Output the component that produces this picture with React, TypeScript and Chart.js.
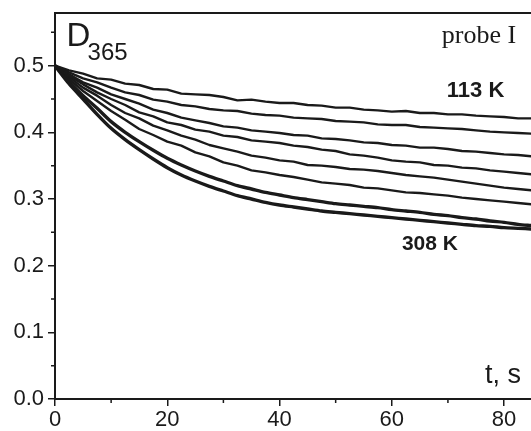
import React, { useEffect, useRef } from "react";
import { Chart, registerables } from "chart.js";

Chart.register(...registerables);

const times = [0, 2.5, 5, 7.5, 10, 12.5, 15, 17.5, 20, 22.5, 25, 27.5, 30, 32.5, 35, 37.5, 40, 42.5, 45, 47.5, 50, 52.5, 55, 57.5, 60, 62.5, 65, 67.5, 70, 72.5, 75, 77.5, 80, 82.5, 85];

const d113K = [0.500, 0.493, 0.488, 0.481, 0.479, 0.473, 0.471, 0.465, 0.464, 0.458, 0.457, 0.456, 0.453, 0.448, 0.449, 0.446, 0.444, 0.444, 0.441, 0.440, 0.437, 0.437, 0.434, 0.433, 0.431, 0.432, 0.429, 0.429, 0.427, 0.427, 0.425, 0.424, 0.423, 0.421, 0.421];
const dCurve2 = [0.500, 0.490, 0.481, 0.475, 0.467, 0.460, 0.456, 0.449, 0.446, 0.441, 0.439, 0.435, 0.433, 0.432, 0.428, 0.426, 0.425, 0.422, 0.421, 0.420, 0.417, 0.416, 0.415, 0.412, 0.411, 0.411, 0.408, 0.407, 0.406, 0.405, 0.403, 0.401, 0.400, 0.399, 0.398];
const dCurve3 = [0.500, 0.487, 0.475, 0.467, 0.457, 0.450, 0.443, 0.434, 0.429, 0.422, 0.418, 0.414, 0.409, 0.407, 0.403, 0.401, 0.399, 0.396, 0.395, 0.391, 0.390, 0.388, 0.385, 0.384, 0.381, 0.380, 0.377, 0.377, 0.375, 0.372, 0.371, 0.369, 0.367, 0.366, 0.364];
const dCurve4 = [0.500, 0.485, 0.472, 0.460, 0.450, 0.441, 0.430, 0.424, 0.415, 0.411, 0.404, 0.401, 0.395, 0.393, 0.388, 0.386, 0.384, 0.380, 0.378, 0.374, 0.372, 0.367, 0.365, 0.362, 0.358, 0.356, 0.355, 0.351, 0.350, 0.347, 0.346, 0.343, 0.341, 0.339, 0.337];
const dCurve5 = [0.500, 0.483, 0.467, 0.455, 0.441, 0.429, 0.421, 0.410, 0.403, 0.395, 0.389, 0.381, 0.376, 0.371, 0.365, 0.362, 0.358, 0.356, 0.351, 0.350, 0.348, 0.345, 0.344, 0.342, 0.339, 0.336, 0.334, 0.332, 0.329, 0.326, 0.323, 0.320, 0.317, 0.315, 0.313];
const dCurve6 = [0.500, 0.480, 0.462, 0.447, 0.432, 0.419, 0.405, 0.396, 0.386, 0.380, 0.370, 0.364, 0.355, 0.350, 0.343, 0.340, 0.336, 0.333, 0.329, 0.325, 0.323, 0.321, 0.317, 0.316, 0.313, 0.310, 0.309, 0.307, 0.305, 0.302, 0.300, 0.298, 0.296, 0.294, 0.292];
const dCurve7 = [0.500, 0.476, 0.455, 0.436, 0.416, 0.400, 0.386, 0.373, 0.361, 0.351, 0.342, 0.334, 0.327, 0.320, 0.315, 0.310, 0.306, 0.302, 0.299, 0.296, 0.293, 0.291, 0.289, 0.287, 0.284, 0.282, 0.280, 0.277, 0.275, 0.272, 0.270, 0.267, 0.265, 0.262, 0.260];
const d308K = [0.500, 0.473, 0.450, 0.427, 0.406, 0.389, 0.374, 0.360, 0.347, 0.336, 0.327, 0.319, 0.312, 0.305, 0.300, 0.295, 0.291, 0.288, 0.285, 0.282, 0.280, 0.278, 0.276, 0.274, 0.272, 0.270, 0.268, 0.266, 0.264, 0.262, 0.260, 0.259, 0.257, 0.256, 0.255];

const thinSeries = [d113K, dCurve2, dCurve3, dCurve4, dCurve5, dCurve6];
const thickSeries = [dCurve7, d308K];

const xMajorTicks = [0, 20, 40, 60, 80];
const xMinorTicks = [10, 30, 50, 70];
const yMinorTicks = [0.05, 0.15, 0.25, 0.35, 0.45, 0.55];

const INK = "#1a1a1a";
const SANS = "'Liberation Sans', Arial, sans-serif";
const SERIF = "'Liberation Serif', 'Times New Roman', serif";

const toPoints = (vals: number[]) => vals.map((v, i) => ({ x: times[i], y: v }));

const framePlugin = {
  id: "frame",
  afterDraw(chart: any) {
    const { ctx, chartArea, scales } = chart;
    const xs = scales.x;
    const ys = scales.y;
    ctx.save();
    ctx.strokeStyle = INK;
    ctx.lineWidth = 2;
    ctx.beginPath();
    ctx.moveTo(chartArea.left, chartArea.top);
    ctx.lineTo(chartArea.right + 2, chartArea.top);
    ctx.stroke();
    ctx.lineWidth = 1.5;
    ctx.beginPath();
    xMinorTicks.forEach((v) => {
      const px = xs.getPixelForValue(v);
      ctx.moveTo(px, chartArea.bottom);
      ctx.lineTo(px, chartArea.bottom + 4);
    });
    yMinorTicks.forEach((v) => {
      const py = ys.getPixelForValue(v);
      ctx.moveTo(chartArea.left, py);
      ctx.lineTo(chartArea.left - 4, py);
    });
    ctx.stroke();

    ctx.fillStyle = INK;
    ctx.textAlign = "left";
    ctx.textBaseline = "alphabetic";
    const at = (x: number, y: number): [number, number] => [xs.getPixelForValue(x), ys.getPixelForValue(y)];
    ctx.font = `33px ${SANS}`;
    ctx.fillText("D", ...at(2.05, 0.529));
    ctx.font = `24px ${SANS}`;
    ctx.fillText("365", ...at(5.8, 0.508));
    ctx.font = `26px ${SERIF}`;
    ctx.fillText("probe I", ...at(68.9, 0.534));
    ctx.font = `bold 22px ${SANS}`;
    ctx.fillText("113 K", ...at(69.8, 0.453));
    ctx.font = `bold 21px ${SANS}`;
    ctx.fillText("308 K", ...at(61.8, 0.223));
    ctx.font = `27px ${SANS}`;
    ctx.fillText("t, s", ...at(76.6, 0.024));
    ctx.restore();
  },
};

export default function App() {
  const ref = useRef<HTMLCanvasElement | null>(null);

  useEffect(() => {
    if (!ref.current) return;
    const datasets = [
      ...thinSeries.map((s, i) => ({
        label: `thin${i}`,
        data: toPoints(s),
        borderColor: INK,
        borderWidth: 2.4,
        pointRadius: 0,
        tension: 0,
        borderJoinStyle: "round" as const,
      })),
      ...thickSeries.map((s, i) => ({
        label: `thick${i}`,
        data: toPoints(s),
        borderColor: INK,
        borderWidth: 3.4,
        pointRadius: 0,
        tension: 0.3,
        borderJoinStyle: "round" as const,
      })),
    ];
    const chart = new Chart(ref.current, {
      type: "line",
      data: { datasets },
      plugins: [framePlugin],
      options: {
        responsive: false,
        animation: false,
        layout: { padding: { top: 13, left: 0, right: 0, bottom: 0 } },
        plugins: { legend: { display: false }, tooltip: { enabled: false } },
        scales: {
          x: {
            type: "linear",
            min: 0,
            max: 84.8,
            afterFit: (s: any) => {
              s.height = 32;
              s.paddingLeft = 0;
              s.paddingRight = 0;
            },
            afterBuildTicks: (s: any) => {
              s.ticks = xMajorTicks.map((v) => ({ value: v }));
            },
            ticks: {
              font: { family: SANS, size: 22 },
              color: INK,
              padding: 1,
              maxRotation: 0,
              autoSkip: false,
            },
            grid: { display: true, drawOnChartArea: false, tickLength: 7, color: INK, lineWidth: 1.5 },
            border: { display: true, color: INK, width: 2 },
          },
          y: {
            type: "linear",
            min: 0,
            max: 0.579,
            afterFit: (s: any) => {
              s.width = 55;
              s.paddingTop = 0;
              s.paddingBottom = 0;
            },
            ticks: {
              stepSize: 0.1,
              includeBounds: false,
              font: { family: SANS, size: 22 },
              color: INK,
              padding: 4,
              autoSkip: false,
              callback: (v: any) => Number(v).toFixed(1),
            },
            grid: { display: true, drawOnChartArea: false, tickLength: 7, color: INK, lineWidth: 1.5 },
            border: { display: true, color: INK, width: 2 },
          },
        },
      },
    });
    return () => chart.destroy();
  }, []);

  return (
    <div style={{ position: "absolute", left: 0, top: 0, width: 531, height: 431 }}>
      <canvas ref={ref} width={531} height={431} style={{ display: "block" }} />
    </div>
  );
}
